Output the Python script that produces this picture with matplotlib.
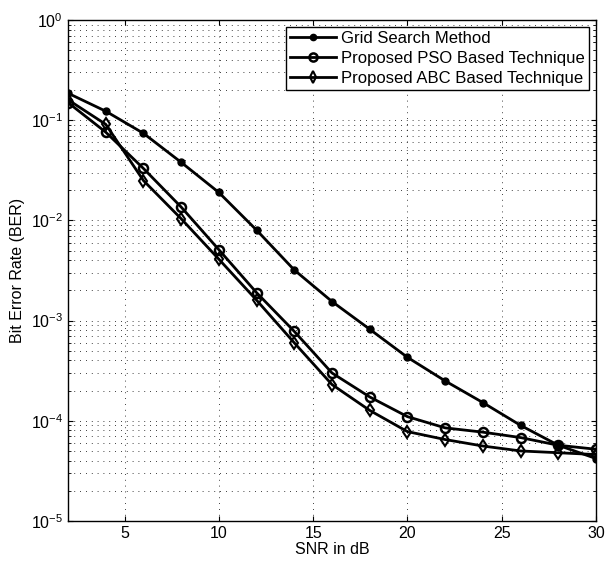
import matplotlib
matplotlib.use("Agg")
import matplotlib.pyplot as plt
import matplotlib.ticker as ticker

snr = [2, 4, 6, 8, 10, 12, 14, 16, 18, 20, 22, 24, 26, 28, 30]
ber_grid = [0.186, 0.123, 0.074, 0.038, 0.019, 0.0080, 0.0032, 0.00155,
            0.00082, 0.00043, 0.00025, 0.000152, 0.00009, 0.000057, 0.000042]
ber_pso = [0.15, 0.076, 0.033, 0.0136, 0.0051, 0.0019, 0.00078, 0.00030,
           0.000173, 0.00011, 0.000085, 0.000077, 0.000068, 0.000057, 0.000052]
ber_abc = [0.16, 0.091, 0.025, 0.0104, 0.0041, 0.0016, 0.00060, 0.00023,
           0.000127, 0.000078, 0.000065, 0.000056, 0.000050, 0.000048, 0.000046]
labels = ["Grid Search Method", "Proposed PSO Based Technique",
          "Proposed ABC Based Technique"]

plt.rcParams['font.family'] = ['Liberation Sans', 'DejaVu Sans']

fig = plt.figure(figsize=(6.06, 5.65), dpi=100)
ax = fig.add_axes([0.1122, 0.0779, 0.8713, 0.8867])

ax.semilogy(snr, ber_grid, color='black', linewidth=2, marker='o',
            markersize=5, markerfacecolor='black', label=labels[0])
ax.semilogy(snr, ber_pso, color='black', linewidth=2, marker='o',
            markersize=6.5, markerfacecolor='none', markeredgewidth=1.8, label=labels[1])
ax.semilogy(snr, ber_abc, color='black', linewidth=2, marker='d',
            markersize=6.5, markerfacecolor='none', markeredgewidth=1.5, label=labels[2])

ax.set_xlim(2, 30)
ax.set_ylim(1e-5, 1)
ax.set_xticks([5, 10, 15, 20, 25, 30])
ax.yaxis.set_major_locator(ticker.LogLocator(base=10, numticks=10))
ax.yaxis.set_minor_locator(ticker.LogLocator(base=10, subs=range(2, 10), numticks=20))
ax.yaxis.set_minor_formatter(ticker.NullFormatter())

dots = (0, (1, 6))
ax.grid(True, which='major', axis='both', linestyle=dots, color='black', linewidth=0.6)
ax.grid(True, which='minor', axis='y', linestyle=dots, color='black', linewidth=0.6)

ax.tick_params(axis='both', which='both', direction='in', top=True, right=True,
               labelsize=11.5)
for s in ax.spines.values():
    s.set_linewidth(1.0)

ax.set_xlabel("SNR in dB", fontsize=11.5, labelpad=1)
ax.set_ylabel("Bit Error Rate (BER)", fontsize=11.5)

leg = ax.legend(loc='upper right', fontsize=12, fancybox=False, framealpha=1,
                edgecolor='black', handlelength=2.8, borderpad=0.25,
                labelspacing=0.3, borderaxespad=0.4, handletextpad=0.3,
                markerscale=0.9)
leg.get_frame().set_linewidth(1.0)

fig.savefig("out.png", dpi=100)
